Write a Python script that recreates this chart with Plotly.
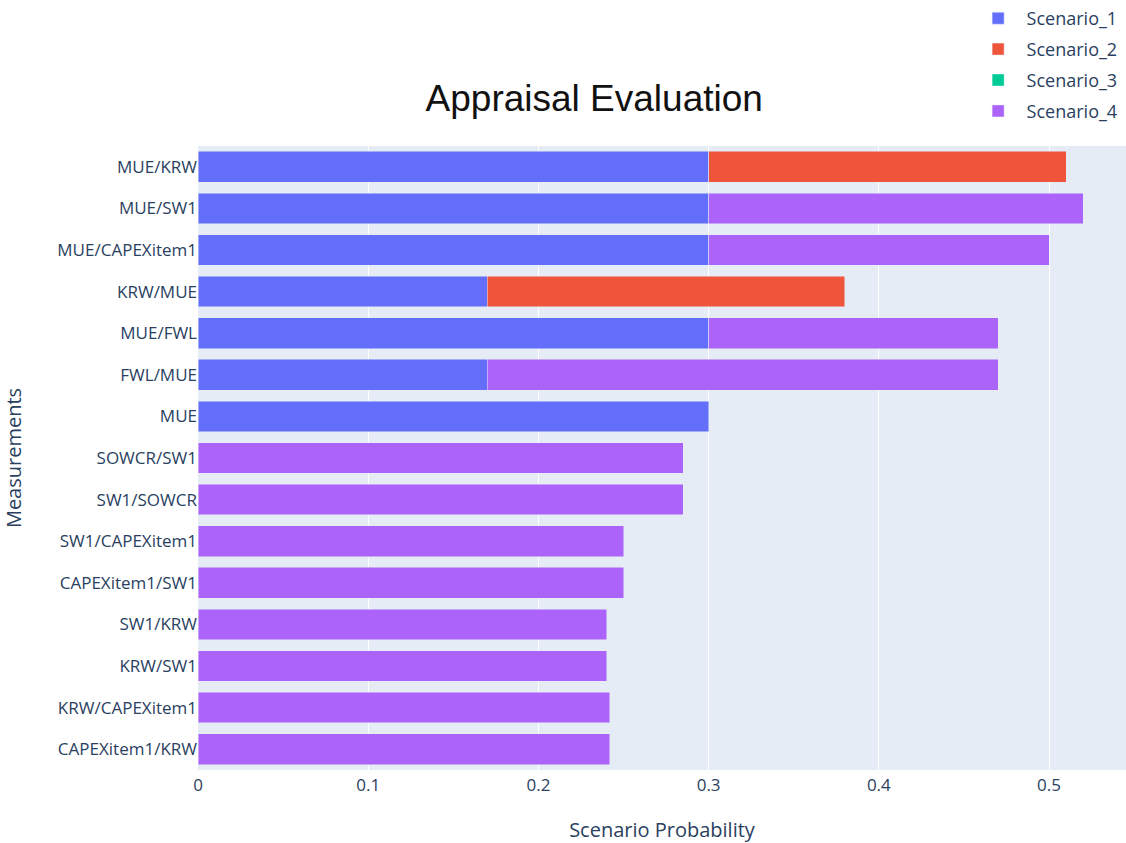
import plotly.graph_objects as go

categories = ["CAPEXitem1/KRW", "KRW/CAPEXitem1", "KRW/SW1", "SW1/KRW",
              "CAPEXitem1/SW1", "SW1/CAPEXitem1", "SW1/SOWCR", "SOWCR/SW1",
              "MUE", "FWL/MUE", "MUE/FWL", "KRW/MUE", "MUE/CAPEXitem1",
              "MUE/SW1", "MUE/KRW"]

scenario_1 = [None, None, None, None, None, None, None, None,
              0.30, 0.17, 0.30, 0.17, 0.30, 0.30, 0.30]
scenario_2 = [None, None, None, None, None, None, None, None,
              None, None, None, 0.21, None, None, 0.21]
scenario_3 = [None] * 15
scenario_4 = [0.242, 0.242, 0.24, 0.24, 0.25, 0.25, 0.285, 0.285,
              None, 0.30, 0.17, None, 0.20, 0.22, None]

series = [("Scenario_1", scenario_1, "#636EFA"),
          ("Scenario_2", scenario_2, "#EF553B"),
          ("Scenario_3", scenario_3, "#00CC96"),
          ("Scenario_4", scenario_4, "#AB63FA")]

fig = go.Figure()
for name, vals, color in series:
    fig.add_trace(go.Bar(
        x=vals, y=categories, name=name, orientation="h", legendgroup=name,
        marker=dict(color=color, line=dict(color="#E5ECF6", width=0.5)),
    ))

font_family = "Open Sans, DejaVu Sans, sans-serif"
fig.update_layout(
    width=1126, height=843,
    barmode="stack", bargap=0.26,
    template="plotly",
    font=dict(family=font_family, size=17, color="#2a3f5f"),
    margin=dict(l=198, r=0, t=146, b=73, autoexpand=False),
    title=dict(text="Appraisal Evaluation", x=0.427, xref="paper", xanchor="center",
               y=0.884, yref="container", yanchor="middle",
               font=dict(family="Liberation Sans, Arial, sans-serif", size=37, color="#111111")),
    legend=dict(x=0.997, xanchor="right", xref="container", y=1.004, yanchor="top", yref="container",
                font=dict(size=18), bgcolor="rgba(255,255,255,0)",
                traceorder="grouped", tracegroupgap=4.5, itemwidth=47),
    plot_bgcolor="#E5ECF6",
    paper_bgcolor="white",
)
fig.update_xaxes(range=[0, 0.5452], title=dict(text="Scenario Probability", standoff=31),
                 gridcolor="white", zeroline=False, automargin=False, ticklabelstandoff=3,
                 tickvals=[0, 0.1, 0.2, 0.3, 0.4, 0.5],
                 ticktext=["0", "0.1", "0.2", "0.3", "0.4", "0.5"])
fig.update_yaxes(title=dict(text="Measurements", standoff=30), categoryorder="array",
                 categoryarray=categories, automargin=False)

fig.write_html("out.html", post_script="document.body.style.margin='0';",
               config={"displayModeBar": False})
